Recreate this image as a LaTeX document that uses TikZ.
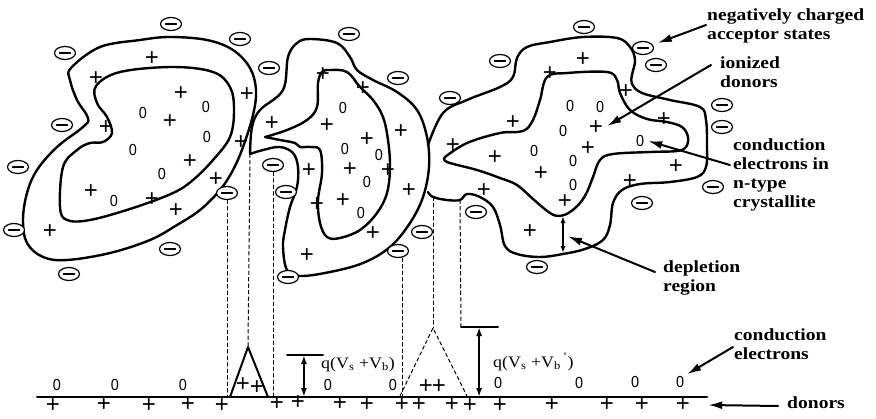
\documentclass[tikz,border=0pt]{standalone}
\usepackage{fontspec}
\setmainfont{Liberation Serif}
\newfontfamily\symfamily{Liberation Sans}
\usetikzlibrary{arrows.meta}
\usetikzlibrary{shapes.geometric}
\usetikzlibrary{calc}

\begin{document}
\begin{tikzpicture}[x=1pt, y=-1pt, line cap=round, line join=round,
    grain/.style={line width=2.4pt},
    don/.style={font=\symfamily\fontsize{24}{24}\selectfont, inner sep=0pt},
    el/.style={font=\symfamily\fontsize{16}{16}\selectfont, inner sep=0pt, xscale=0.9},
    acc/.style={ellipse, draw, fill=white, line width=1.2pt, minimum width=21pt, minimum height=13pt, inner sep=0pt,
        path picture={\draw[line width=1.3pt] ([xshift=-5.5pt]path picture bounding box.center) -- ([xshift=5.5pt]path picture bounding box.center);}},
    lbl/.style={font=\bfseries\fontsize{17}{18.7}\selectfont, align=left, inner sep=0pt, anchor=base west, xscale=1.15},
    qlbl/.style={font=\fontsize{16}{16}\selectfont, inner sep=0pt, anchor=base west, xscale=1.12},
    proj/.style={line width=1pt, dash pattern=on 3.5pt off 3pt},
    pointer/.style={line width=2pt, -{Latex[length=14pt,width=8pt]}},
    gap/.style={line width=2pt, {Latex[length=9pt,width=6pt]}-{Latex[length=9pt,width=6pt]}}]
    % frame
    \useasboundingbox (0,0) rectangle (876,418);

    % left grain
    \draw[grain] plot[smooth cycle, tension=0.6] coordinates {(71,68) (100,47) (140,40) (170,37) (207,40) (233,50) (250,68) (256,90) (253,115) (243,147) (233,170) (220,190) (200,210) (177,225) (150,240) (110,253) (67,260) (43,257) (27,243) (23,220) (27,193) (37,170) (57,147) (83,127) (88,118) (77,100) (70,80)};
    \draw[grain] plot[smooth cycle, tension=0.6] coordinates {(96,86) (120,72) (173,67) (213,72) (230,87) (234,110) (230,137) (213,160) (193,180) (173,193) (133,208) (90,220) (67,220) (60,207) (63,167) (77,150) (90,143) (103,142) (112,133) (107,117) (97,103)};

    % middle grain
    \coordinate (cornerA) at (250,154);
    \draw[grain] plot[smooth, tension=0.6] coordinates {(cornerA) (252,127) (260,110) (283,90) (288,57) (297,43) (310,39) (337,43) (350,57) (357,70) (373,80) (397,92) (417,110) (427,137) (429,167) (423,197) (410,223) (390,247) (363,263) (330,272) (300,276) (287,270) (283,247) (285,230) (290,207) (297,187) (298,167) (293,153) (280,147) (263,150) (cornerA)};
    \draw[grain] plot[smooth, tension=0.6] coordinates {(265,137) (287,130) (307,120) (317,107) (318,83) (322,72) (330,70) (347,72) (360,87) (373,100) (383,117) (388,140) (390,167) (387,193) (377,213) (360,230) (340,238) (327,237) (320,223) (318,200) (322,173) (320,150) (310,147) (300,147) (295,143) (280,140) (265,137)};

    % right grain
    \coordinate (cornerB) at (433,197);
    \coordinate (cornerC) at (460,200);
    \draw[grain] plot[smooth, tension=0.6] coordinates {(428,145) (443,113) (467,100) (500,87) (513,77) (517,58) (527,47) (550,42) (583,37) (617,38) (630,47) (635,60) (632,75) (632,84) (642,93) (670,100) (700,107) (706,120) (707,147) (706,167) (697,177) (670,182) (640,184) (622,190) (613,203) (610,225) (603,240) (585,249) (563,254) (540,257) (517,254) (505,246) (500,225) (493,207) (480,197) (467,194) (cornerC) (447,200) (cornerB) (428,192)};
    \draw[grain] plot[smooth, tension=0.6] coordinates {(445,157) (467,143) (500,133) (523,131) (533,120) (540,100) (547,77) (567,73) (607,72) (617,80) (620,93) (630,110) (647,119) (667,122) (682,127) (688,137) (686,147) (677,151) (650,152) (613,154) (600,160) (593,177) (587,192) (580,203) (570,212) (560,216) (550,213) (533,199) (517,185) (500,178) (477,170) (447,162) (445,157)};

    % ionized donors
    \foreach \p [count=\i] in {(152,59),(96,79),(181,94),(170,122),(106,128),(190,162),(216,180),(91,192),(152,200),(176,211),(50,232),(247,95),(241,143),
        (272,124),(323,75),(363,89),(327,126),(367,140),(401,132),(309,171),(350,170),(388,171),(409,191),(317,205),(343,201),(373,234),(307,256),
        (583,60),(550,74),(513,123),(453,146),(495,158),(588,149),(541,174),(565,202),(484,191),(530,232),(626,92),(630,182),(664,120),(676,167)}
        \node[don] (don\i) at \p {+};
    \node[don] (donA) at (596,128) {+};

    % conduction electrons
    \foreach \p [count=\i] in {(143,113),(206,107),(207,137),(133,150),(162,174),(114,201),
        (343,108),(345,149),(379,155),(367,182),(361,213),
        (570,106),(600,107),(563,131),(534,151),(573,161),(573,185)}
        \node[el] (el\i) at \p {0};
    \node[el] (elA) at (640,141) {0};

    % acceptor states
    \foreach \p [count=\i] in {(171,24),(240,39),(65,53),(62,125),(18,167),(14,230),(170,249),(69,274),(286,192),(288,277),(269,68),(349,34),
        (398,78),(422,232),(450,98),(500,61),(584,27),(656,65),(476,212),(537,267),(642,203),(722,105),(722,127),(713,187)}
        \node[acc] (acc\i) at \p {};
    \node[acc] (accA) at (643,48) {};
    \node[acc] (accP1) at (227,193) {};
    \node[acc] (accP2) at (273,165) {};
    \node[acc] (accP3) at (398,251) {};

    % band picture
    \coordinate (L) at (37,397);
    \coordinate (R) at (707,397);
    \draw[line width=2pt] (L) -- (R);
    \foreach \p [count=\i] in {(53,406),(104,405),(149,406),(188,405),(222,406),(277,404),(298,403),(340,404),(367,405),(402,405),(419,405),
        (452,405),(470,406),(500,406),(552,405),(607,405),(642,405),(243,385),(257,388),(426,387),(439,387)}
        \node[don] (bd\i) at \p {+};
    \node[don] (donB) at (683,405) {+};
    \foreach \p [count=\i] in {(57,385),(115,385),(183,385),(328,385),(393,385),(498,383),(579,383),(635,382)}
        \node[el] (be\i) at \p {0};
    \node[el] (elB) at (680,382) {0};

    % barriers
    \coordinate (peak) at (248,347);
    \draw[line width=2pt] (230,397) -- (peak) -- (268,397);
    \coordinate (peakB) at (433,328);
    \draw[proj] (400,396) -- (peakB) -- (467,396);

    % projections
    \draw[proj] (accP1.south) -- (accP1.south |- L);
    \draw[proj] (cornerA) -- (peak);
    \draw[proj] (accP2.south) -- (accP2.south |- L);
    \draw[proj] ([xshift=4pt]accP3.south) -- ([xshift=4pt]accP3.south |- L);
    \draw[proj] (cornerB) -- (peakB);
    \coordinate (barRw) at (461,327);
    \coordinate (barRe) at (498,327);
    \draw[proj] (cornerC) -- (barRw);

    % barrier heights
    \coordinate (barLw) at (287,355);
    \coordinate (barLe) at (323,355);
    \draw[line width=2pt] (barLw) -- (barLe);
    \draw[gap] ($(barLw)!0.47!(barLe)$) coordinate (hL) -- (hL |- L);
    \node[qlbl] (qL) at (321,368) {q(V\textsubscript{s} +V\textsubscript{b})};
    \draw[line width=2pt] (barRw) -- (barRe);
    \draw[gap] ($(barRw)!0.49!(barRe)$) coordinate (hR) -- (hR |- L);
    \node[qlbl] (qR) at (493,367) {q(V\textsubscript{s} +V\textsubscript{b}\textsuperscript{\,'})};

    % depletion width
    \coordinate (depT) at (563,216);
    \coordinate (depB) at (563,253);
    \draw[line width=1.5pt, {Latex[length=7pt,width=5pt]}-{Latex[length=7pt,width=5pt]}] (depT) -- (depB);

    % labels (anchored on the last line)
    \node[lbl] (negLbl) at (707,39) {negatively charged\\acceptor states};
    \node[lbl] (ionLbl) at (720,87) {ionized\\donors};
    \node[lbl] (ceLbl) at (733,207) {conduction\\electrons in\\n-type\\crystallite};
    \node[lbl] (depLbl) at (663,291) {depletion\\region};
    \node[lbl] (cbLbl) at (734,359) {conduction\\electrons};
    \node[lbl] (donLbl) at (787,408) {donors};

    \draw[pointer] ([shift={(-1,-14)}]negLbl.base west) -- ([xshift=7pt]accA.north east);
    \draw[pointer] ([shift={(-9,-22)}]ionLbl.base west) -- ([shift={(4,-2)}]donA.east);
    \draw[pointer] ([shift={(-3,-42)}]ceLbl.base west) -- ([xshift=4pt]elA.east);
    \draw[pointer] ([shift={(-8,-19)}]depLbl.base west) -- ([xshift=5pt]$(depT)!0.55!(depB)$);
    \draw[pointer] ([shift={(-1,-12)}]cbLbl.base west) -- ([shift={(3,-2)}]elB.north east);
    \draw[pointer] ([shift={(-9,-2)}]donLbl.base west) -- ([xshift=18pt]donB.east);

\end{tikzpicture}
\end{document}
